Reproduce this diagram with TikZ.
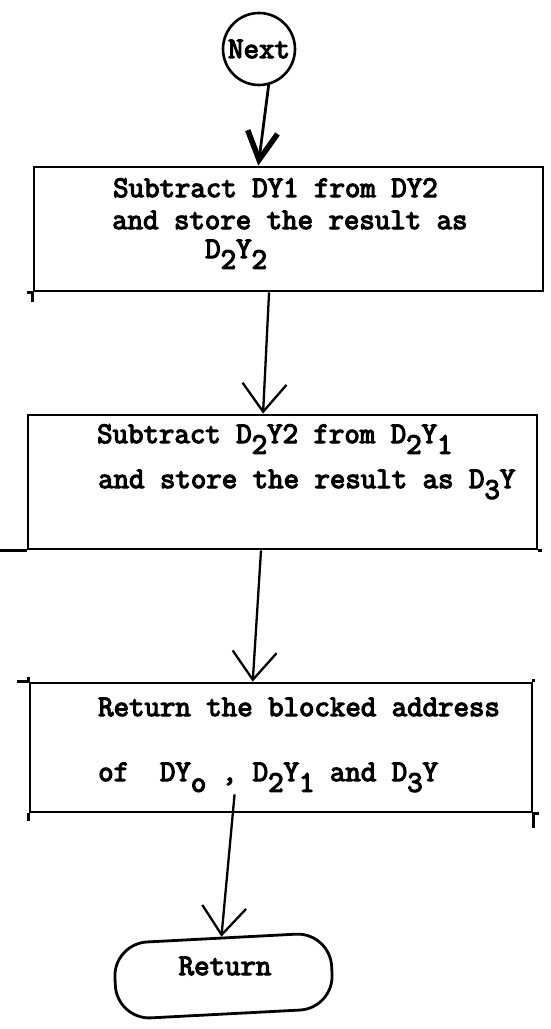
\documentclass[tikz,border=0pt]{standalone}
\usepackage{fontspec}
\usetikzlibrary{arrows.meta,calc}
% slab-serif typewriter face, thickened
\newfontfamily\tw{Latin Modern Mono}[FakeBold=4]
% typewriter "subscript": a full-size character dropped below the line
\newcommand{\lo}[1]{\raisebox{-0.36em}{#1}}

\begin{document}
\begin{tikzpicture}[x=1pt,y=-1pt,
  txt/.style={font=\tw\fontsize{30}{30}\selectfont, inner sep=0pt, anchor=base west},
  boxst/.style={draw, line width=2.8pt, rectangle, inner sep=0pt},
  rule/.style={line width=2.8pt},
  flow/.style={line width=2.3pt, -{Straight Barb[length=28pt,width=44pt]}},
  heavyflow/.style={line width=2.8pt, -{Straight Barb[length=28pt,width=30pt,line width=5.5pt]}},
]
\fill[white] (0,0) rectangle (550,1029);
\useasboundingbox (0,0) rectangle (550,1029);

% connector
\node[draw, circle, line width=2.6pt, minimum size=72pt, inner sep=0pt,
      font=\tw\fontsize{30}{30}\selectfont] (next) at (259,49) {Next};

% first step
\node[boxst, minimum width=509pt, minimum height=124pt] (b1) at (288.5,229) {};
\draw[rule] (b1.south west) -- ++(0,10);
\draw[rule] (b1.south west) -- ++(-6,0);
\node[txt] (t1a) at (113,197) {Subtract DY1 from DY2};
\node[txt] (t1b) at (112,229) {and store the result as};
\node[txt] (t1c) at (205,258) {D\lo{2}Y\lo{2}};

% second step
\node[boxst, minimum width=509pt, minimum height=134pt] (b2) at (282.5,482) {};
\draw[rule] (b2.south west) -- ++(-28,0);
\draw[rule] (b2.south east) -- ++(4,0);
\node[txt] (t2a) at (97,443) {Subtract D\lo{2}Y2 from D\lo{2}Y\lo{1}};
\node[txt] (t2b) at (98,488) {and store the result as D\lo{3}Y};

% third step
\node[boxst, minimum width=502pt, minimum height=129pt] (b3) at (281,747.5) {};
\draw[rule] (b3.north west) -- ++(-12,0);
\draw[rule] (b3.north west) -- ++(0,-5);
\draw[rule] (b3.south west) -- ++(0,8);
\draw[rule] (b3.north east) -- ++(0,-3);
\draw[rule] (b3.south east) -- ++(0,15);
\draw[rule] (b3.south east) -- ++(6,0);
\node[txt] (t3a) at (98,716) {Return the blocked address};
\node[txt] (t3b) at (98,781) {of~~DY\lo{o}~, D\lo{2}Y\lo{1} and D\lo{3}Y};

% terminal
\node[draw, line width=2.8pt, rounded corners=34pt, minimum width=217pt,
      minimum height=76pt, rotate=3] (ret) at (223.5,976) {};
\node[txt, anchor=base] (retlbl) at (225,975) {Return};

% connector end points on the box edges
\coordinate (in1) at ($(b1.north west)!0.441!(b1.north east)$);
\coordinate (out1) at ($(b1.south west)!0.462!(b1.south east)$);
\coordinate (in2) at ($(b2.north west)!0.462!(b2.north east)$);
\coordinate (out2) at ($(b2.south west)!0.458!(b2.south east)$);
\coordinate (in3) at ($(b3.north west)!0.444!(b3.north east)$);
\coordinate (out3) at ($(b3.south west)!0.408!(b3.south east) + (0,-19)$);

% flow lines
\draw[heavyflow] (next.-75) -- (in1);
\draw[flow] (out1) -- (in2);
\draw[flow] (out2) -- (in3);
\draw[flow] (out3) -- (ret.north);
\end{tikzpicture}
\end{document}
